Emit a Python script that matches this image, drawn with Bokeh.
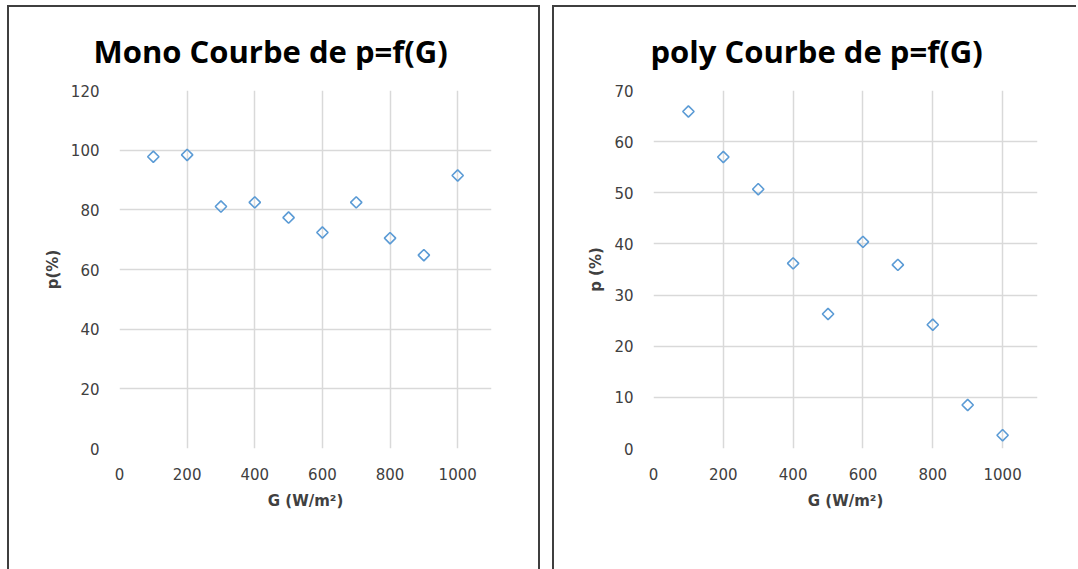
import math
from bokeh.plotting import figure
from bokeh.layouts import row
from bokeh.models import Range1d, FixedTicker
from bokeh.embed import file_html
from bokeh.resources import INLINE

# Irradiance G (W/m²)
g_values = [100, 200, 300, 400, 500, 600, 700, 800, 900, 1000]
# Efficiency p (%) of the monocrystalline module
p_mono = [97.8, 98.4, 81.1, 82.5, 77.4, 72.4, 82.5, 70.5, 64.8, 91.5]
# Efficiency p (%) of the polycrystalline module
p_poly = [65.9, 57.0, 50.7, 36.2, 26.3, 40.4, 35.9, 24.2, 8.5, 2.6]

x_ticks = [0, 200, 400, 600, 800, 1000]
mono_y_ticks = [0, 20, 40, 60, 80, 100, 120]
poly_y_ticks = [0, 10, 20, 30, 40, 50, 60, 70]

MARKER = "#5b9bd5"
GRID = "#d9d9d9"
TICK_TXT = "#404040"
BORDER = "2px solid #3f3f3f"


def make_chart(title, ylabel, yvals, yticks, ymax, width, left, right, top, bottom,
               title_offset, styles):
    p = figure(width=width, height=564, output_backend="svg", toolbar_location=None,
               x_range=Range1d(0, 1100), y_range=Range1d(0, ymax),
               min_border_left=left, min_border_right=right,
               min_border_top=top, min_border_bottom=bottom)
    p.styles = styles
    p.title.text = title
    p.title.text_font = "Open Sans"
    p.title.text_font_style = "bold"
    p.title.text_font_size = "31px"
    p.title.text_color = "#000000"
    p.title.align = "left"
    p.title.offset = title_offset
    p.title.standoff = 38
    p.outline_line_color = None
    p.background_fill_color = "white"
    p.border_fill_color = "white"

    p.xaxis.ticker = FixedTicker(ticks=x_ticks)
    p.yaxis.ticker = FixedTicker(ticks=yticks)
    for ax in (p.xaxis[0], p.yaxis[0]):
        ax.axis_line_color = None
        ax.major_tick_line_color = None
        ax.minor_tick_line_color = None
        ax.major_label_text_font = "DejaVu Sans"
        ax.major_label_text_font_size = "15px"
        ax.major_label_text_color = TICK_TXT
        ax.axis_label_text_font = "DejaVu Sans"
        ax.axis_label_text_font_size = "15px"
        ax.axis_label_text_font_style = "bold"
        ax.axis_label_text_color = TICK_TXT
    p.xaxis.axis_label = "G (W/m²)"
    p.yaxis.axis_label = ylabel
    p.xaxis.major_label_standoff = 13
    p.xaxis.axis_label_standoff = 9
    p.yaxis.major_label_standoff = 14
    p.yaxis.axis_label_standoff = 6

    p.xgrid.grid_line_color = GRID
    p.ygrid.grid_line_color = GRID
    p.xgrid.grid_line_width = 1.5
    p.ygrid.grid_line_width = 1.5

    # hollow diamonds: squares turned by 45 degrees
    p.scatter(g_values, yvals, marker="square", angle=math.pi / 4, size=8,
              fill_color=None, line_color=MARKER, line_width=1.6)
    return p


p1 = make_chart("Mono Courbe de p=f(G)", "p(%)", p_mono, mono_y_ticks, 120,
                533, 110, 51, 83, 122, -26,
                {"border-left": BORDER, "border-top": BORDER, "border-right": BORDER,
                 "margin-left": "7px", "margin-top": "5px"})
p2 = make_chart("poly Courbe de p=f(G)", "p (%)", p_poly, poly_y_ticks, 70,
                524, 99, 41, 83, 123, -3,
                {"border-left": BORDER, "border-top": BORDER,
                 "margin-left": "12px", "margin-top": "5px"})

layout = row(p1, p2)
open("out.html", "w").write(file_html(layout, INLINE))
